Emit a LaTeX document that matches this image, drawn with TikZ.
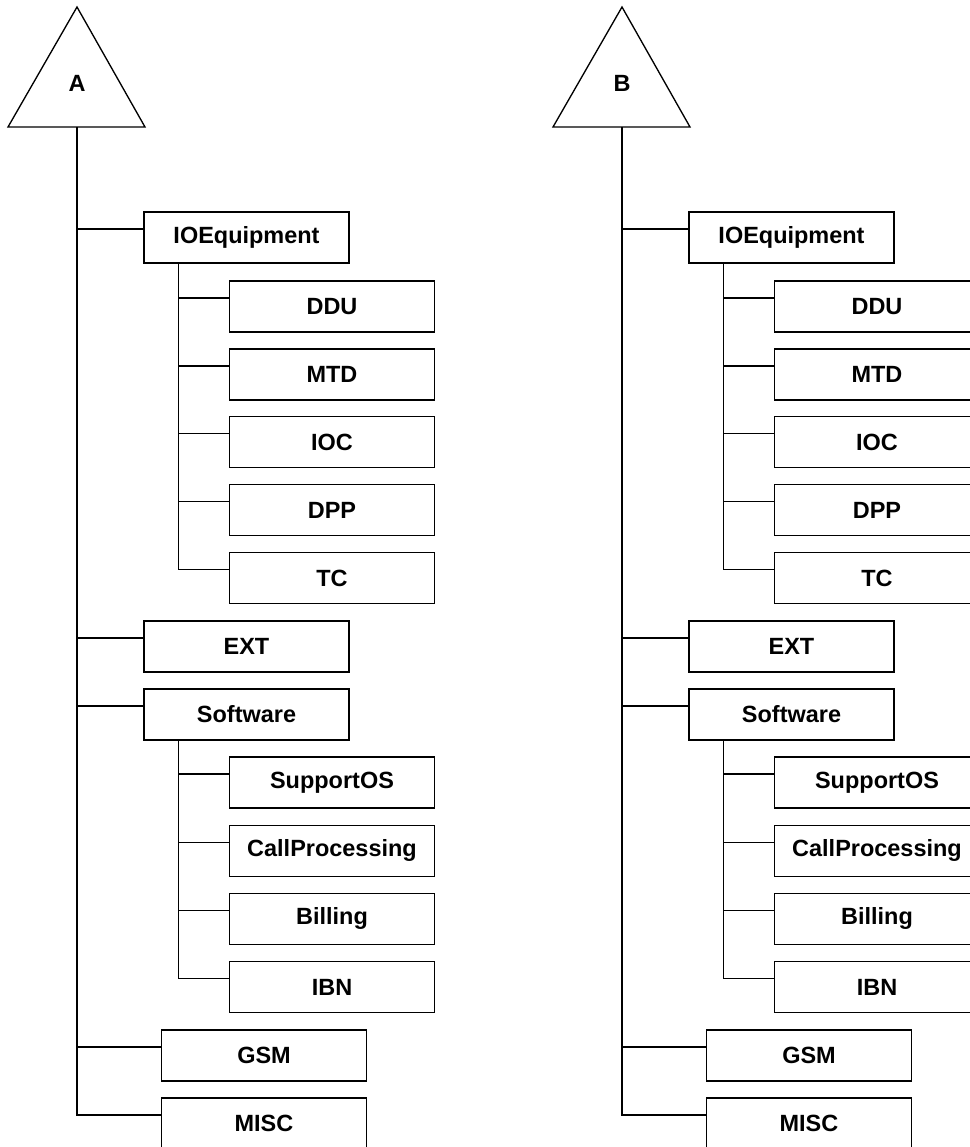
\documentclass[tikz,border=0pt]{standalone}
\usepackage{fontspec}
\setmainfont{Liberation Sans}
\usetikzlibrary{calc}
\tikzset{
  box/.style={draw, line width=1pt, minimum width=153.75pt, minimum height=38.25pt, inner sep=0pt,
    font=\fontsize{17.6}{20}\selectfont\bfseries},
  link/.style={line width=1pt},
  lab/.style={inner sep=0pt, font=\fontsize{17.6}{20}\selectfont\bfseries},
}
\newcommand\mytree[3]{%
  \begin{scope}[xshift=#2*0.75pt]
    \coordinate (#1apex) at (77,7);
    \coordinate (#1bl) at (8,127);
    \coordinate (#1br) at (145,127);
    \coordinate (#1base) at (77,127);
    \draw[link] (#1apex) -- (#1br) -- (#1bl) -- cycle;
    \node[lab] (#1lab) at (77,83) {#3};
    \node[box] (#1io)   at (246.5,237.5) {IOEquipment};
    \node[box] (#1ddu)  at (332,306.5) {DDU};
    \node[box] (#1mtd)  at (332,374.4) {MTD};
    \node[box] (#1ioc)  at (332,442.3) {IOC};
    \node[box] (#1dpp)  at (332,510.2) {DPP};
    \node[box] (#1tc)   at (332,578.1) {TC};
    \node[box] (#1ext)  at (246.5,646.5) {EXT};
    \node[box] (#1sw)   at (246.5,714.5) {Software};
    \node[box] (#1sup)  at (332,782.5) {SupportOS};
    \node[box] (#1call) at (332,850.8) {CallProcessing};
    \node[box] (#1bill) at (332,918.8) {Billing};
    \node[box] (#1ibn)  at (332,987.3) {IBN};
    \node[box] (#1gsm)  at (264,1055.5) {GSM};
    \node[box] (#1misc) at (264,1123.5) {MISC};
    \foreach \n in {io,ddu,mtd,ioc,dpp,tc,ext,sw,sup,call,bill,ibn,gsm,misc}
      {\coordinate (#1\n A) at ($(#1\n.west)+(0,-8.5)$);}
    \coordinate (#1ioT) at ($(#1io.south west)+(35,0)$);
    \coordinate (#1swT) at ($(#1sw.south west)+(35,0)$);
    % main trunk
    \draw[link] (#1base) |- (#1miscA);
    \foreach \n in {io,ext,sw,gsm}
      {\draw[link] (#1base |- #1\n A) -- (#1\n A);}
    % IOEquipment subtree
    \draw[link] (#1ioT) |- (#1tcA);
    \foreach \n in {ddu,mtd,ioc,dpp}
      {\draw[link] (#1ioT |- #1\n A) -- (#1\n A);}
    % Software subtree
    \draw[link] (#1swT) |- (#1ibnA);
    \foreach \n in {sup,call,bill}
      {\draw[link] (#1swT |- #1\n A) -- (#1\n A);}
  \end{scope}}
\begin{document}
\begin{tikzpicture}[x=0.75pt, y=-0.75pt]
  \path[use as bounding box] (0,0) rectangle (970,1147);
  \clip (0,0) rectangle (970,1147);
  \mytree{a}{0}{A}
  \mytree{b}{545}{B}
\end{tikzpicture}
\end{document}
